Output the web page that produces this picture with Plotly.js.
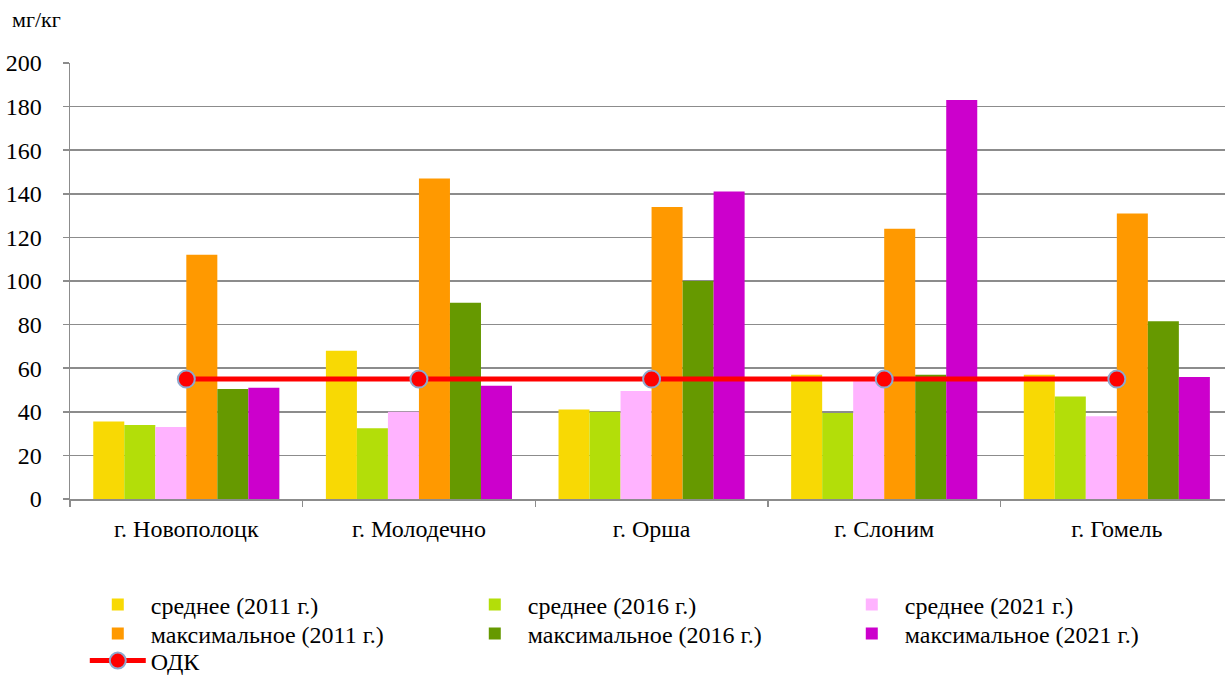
<!DOCTYPE html>
<html>
<head>
<meta charset="utf-8">
<script src="https://cdn.plot.ly/plotly-3.0.1.min.js"></script>
<style>
  html, body { margin: 0; padding: 0; background: #ffffff; }
  #chart { width: 1225px; height: 675px; }
</style>
</head>
<body>
<div id="chart"></div>
<script>
// Cities
const cities = ['г. Новополоцк', 'г. Молодечно', 'г. Орша', 'г. Слоним', 'г. Гомель'];

// Average content, mg/kg
const avg2011 = [35.5, 68, 41, 57, 57];
const avg2016 = [34, 32.5, 40, 39.5, 47];
const avg2021 = [33, 40, 49.5, 55.5, 38];

// Maximum content, mg/kg
const max2011 = [112, 147, 134, 124, 131];
const max2016 = [50.5, 90, 100, 57, 81.5];
const max2021 = [51, 52, 141, 183, 56];

// Approximate permissible concentration (ОДК)
const odk = [55, 55, 55, 55, 55];

const yTicks = [0, 20, 40, 60, 80, 100, 120, 140, 160, 180, 200];

const font = 'Liberation Serif, Times New Roman, serif';
const gridColor = '#8c8c8c';

function barTrace(name, values, color, legendId) {
  return {
    type: 'bar',
    name: name,
    x: cities,
    y: values,
    legend: legendId,
    marker: { color: color, line: { width: 0 } },
    hoverinfo: 'name+y'
  };
}

const traces = [
  barTrace('среднее (2011 г.)', avg2011, '#F8D904', 'legend'),
  barTrace('среднее (2016 г.)', avg2016, '#B3DE09', 'legend'),
  barTrace('среднее (2021 г.)', avg2021, '#FFB3FF', 'legend'),
  barTrace('максимальное (2011 г.)', max2011, '#FF9900', 'legend2'),
  barTrace('максимальное (2016 г.)', max2016, '#669900', 'legend2'),
  barTrace('максимальное (2021 г.)', max2021, '#CC00CC', 'legend2'),
  {
    type: 'scatter',
    mode: 'lines+markers',
    name: 'ОДК',
    x: cities,
    y: odk,
    legend: 'legend3',
    line: { color: '#FF0000', width: 5 },
    marker: { color: '#FF0000', size: 17, line: { color: '#8EA9CF', width: 2 } }
  }
];

// One legend row per group: averages, maxima, and the limit line
function legendRow(yPos) {
  return {
    orientation: 'h',
    x: 0.0128,
    xanchor: 'left',
    y: yPos,
    yanchor: 'middle',
    entrywidth: 306,
    entrywidthmode: 'pixels',
    itemwidth: 56,
    tracegroupgap: 0,
    bgcolor: 'rgba(0,0,0,0)',
    font: { family: font, size: 24, color: '#000000' }
  };
}

const layout = {
  width: 1225,
  height: 675,
  margin: { l: 70, r: 0, t: 63, b: 176, autoexpand: false },
  paper_bgcolor: '#ffffff',
  plot_bgcolor: '#ffffff',
  font: { family: font, color: '#000000', size: 20 },
  barmode: 'group',
  bargap: 0.2,
  bargroupgap: 0,
  showlegend: true,
  legend: legendRow(-0.2431),
  legend2: legendRow(-0.3096),
  legend3: legendRow(-0.3716),
  xaxis: {
    type: 'category',
    range: [-0.5, 4.465],
    showgrid: false,
    showline: true,
    linecolor: gridColor,
    linewidth: 1.5,
    ticks: 'outside',
    tickson: 'boundaries',
    ticklen: 6,
    tickcolor: gridColor,
    tickwidth: 1.5,
    ticklabelstandoff: 8,
    tickfont: { family: font, size: 24, color: '#000000' },
    fixedrange: true
  },
  yaxis: {
    range: [0, 200],
    tickvals: yTicks,
    ticktext: yTicks.map(String),
    showgrid: true,
    gridcolor: gridColor,
    gridwidth: 1.5,
    zeroline: false,
    showline: true,
    linecolor: gridColor,
    linewidth: 1.5,
    ticks: 'outside',
    ticklen: 6,
    tickcolor: gridColor,
    tickwidth: 1.5,
    ticklabelstandoff: 16,
    tickfont: { family: font, size: 24, color: '#000000' },
    fixedrange: true
  },
  annotations: [
    {
      text: 'мг/кг',
      xref: 'paper', yref: 'paper',
      x: -0.052, y: 1.1,
      xanchor: 'left', yanchor: 'middle',
      showarrow: false,
      font: { family: font, size: 22, color: '#000000' }
    }
  ]
};

Plotly.newPlot('chart', traces, layout, { displayModeBar: false, staticPlot: true });
</script>
</body>
</html>
